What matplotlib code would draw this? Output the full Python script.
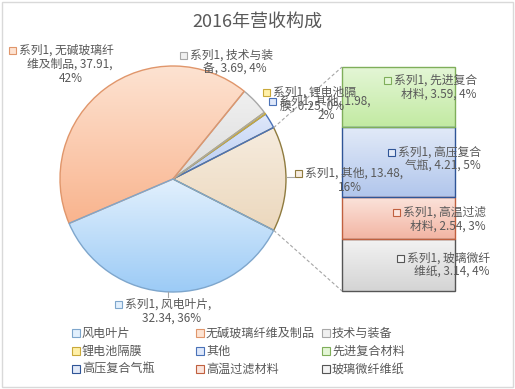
import numpy as np
import matplotlib
matplotlib.use("Agg")
import matplotlib.pyplot as plt
from matplotlib.colors import to_rgb
from matplotlib.patches import Rectangle

plt.rcParams['font.family'] = ['Noto Sans CJK SC', 'DejaVu Sans']

# pie slices (counter-clockwise, starting with the aggregated "其他" slice)
pie_names = ["其他", "其他", "锂电池隔膜", "技术与装备", "无碱玻璃纤维及制品", "风电叶片"]
pie_values = [13.48, 1.98, 0.25, 3.69, 37.91, 32.34]
pie_pct = ["16%", "2%", "0%", "4%", "42%", "36%"]

# secondary bar (bottom to top)
bar_names = ["玻璃微纤维纸", "高温过滤材料", "高压复合气瓶", "先进复合材料"]
bar_values = [3.14, 2.54, 4.21, 3.59]
bar_pct = ["4%", "3%", "5%", "4%"]

legend_names = ["风电叶片", "无碱玻璃纤维及制品", "技术与装备",
                "锂电池隔膜", "其他", "先进复合材料",
                "高压复合气瓶", "高温过滤材料", "玻璃微纤维纸"]

# gradient top / bottom / edge colours
styles = {
    "风电叶片": ("#e2f0fd", "#9ccbf6", "#7ea6cc"),
    "无碱玻璃纤维及制品": ("#fde3d2", "#f9b48e", "#e0966b"),
    "技术与装备": ("#f0f0f0", "#dcdcdc", "#a8a8a8"),
    "锂电池隔膜": ("#fff0a8", "#ffd966", "#c9a93a"),
    "其他": ("#dfe8fa", "#b7cbf2", "#4a72b8"),
    "其他_agg": ("#f6ecdf", "#ecd8bd", "#8f7b3f"),
    "先进复合材料": ("#e4f6d6", "#c2eaa2", "#7fae5a"),
    "高压复合气瓶": ("#e2eaf8", "#b1c6ec", "#2f5597"),
    "高温过滤材料": ("#fbe4dc", "#f3b5a3", "#c0603f"),
    "玻璃微纤维纸": ("#f3f3f3", "#d4d4d4", "#555555"),
}

W, H = 515, 389
fig = plt.figure(figsize=(W / 100, H / 100), dpi=100)
ax = fig.add_axes([0, 0, 1, 1])


def grad_fill(axis, patch, top, bottom):
    x0, y0, x1, y1 = patch.get_path().transformed(patch.get_patch_transform()).get_extents().extents
    n = 128
    t = np.linspace(0, 1, n)[:, None]
    c = (1 - t) * np.array(to_rgb(top)) + t * np.array(to_rgb(bottom))
    img = axis.imshow(c[:, None, :], extent=(x0, x1, y0, y1), aspect="auto",
                      interpolation="bilinear", zorder=1)
    img.set_clip_path(patch)


cx, cy, r = 173, H - 179, 113
wedges, _ = ax.pie(pie_values, startangle=-27, counterclock=True,
                   center=(cx, cy), radius=r,
                   wedgeprops=dict(linewidth=1.0, facecolor="none"))
for i, w in enumerate(wedges):
    key = "其他_agg" if i == 0 else pie_names[i]
    top, bot, edge = styles[key]
    w.set_edgecolor(edge)
    w.set_zorder(2)
    grad_fill(ax, w, top, bot)

ax.set_xlim(0, W)
ax.set_ylim(0, H)
ax.set_aspect("auto")
ax.axis("off")

# chart border
ax.add_patch(Rectangle((1.5, 2.5), W - 3.5, H - 4, fill=False,
                       edgecolor="#d9d9d9", linewidth=1, zorder=0))

ax.text(W / 2, H - 22, "2016年营收构成", ha="center", va="center",
        fontsize=13, color="#595959")

# stacked bar (own axes, drawn beneath the label layer)
bx0, bx1, by_top, by_bot = 342, 455, 67, 291
bax = fig.add_axes([bx0 / W, (H - by_bot) / H, (bx1 - bx0) / W, (by_bot - by_top) / H])
bax.set_zorder(0)
ax.set_zorder(1)
ax.patch.set_alpha(0)
bottoms = np.concatenate([[0], np.cumsum(bar_values)[:-1]])
rects = bax.bar(np.zeros(len(bar_values)), bar_values, bottom=bottoms, width=1.0,
                facecolor="none", linewidth=1.0, zorder=2)
for rect, name in zip(rects, bar_names):
    top, bot, edge = styles[name]
    rect.set_edgecolor(edge)
    rect.set_clip_on(False)
    grad_fill(bax, rect, top, bot)
bax.set_xlim(-0.5, 0.5)
bax.set_ylim(0, sum(bar_values))
bax.axis("off")

# connector lines (slice edge -> bar corners)
ang = np.deg2rad(27)
ax.plot([cx + r * np.cos(ang), bx0], [cy + r * np.sin(ang), H - by_top],
        color="#a6a6a6", lw=0.8, ls=(0, (3, 2)), zorder=3)
ax.plot([cx + r * np.cos(-ang), bx0], [cy + r * np.sin(-ang), H - by_bot],
        color="#a6a6a6", lw=0.8, ls=(0, (3, 2)), zorder=3)

TXT = "#595959"
FS = 8.5


def label(key, mx, my, line1, line2, cx2):
    top, bot, edge = styles[key]
    ax.add_patch(Rectangle((mx - 3.5, H - my - 3.5), 7, 7, facecolor=top,
                           edgecolor=edge, lw=0.8, zorder=5))
    ax.text(mx + 7, H - my, line1, ha="left", va="center", fontsize=FS, color=TXT, zorder=5)
    ax.text(cx2, H - my - 14, line2, ha="center", va="center", fontsize=FS, color=TXT, zorder=5)


v = dict(zip(pie_names[1:], pie_values[1:]))
p = dict(zip(pie_names[1:], pie_pct[1:]))
label("无碱玻璃纤维及制品", 12, 50, "系列1, 无碱玻璃纤",
      f"维及制品, {v['无碱玻璃纤维及制品']:.2f},", 70)
ax.text(71, H - 78, p["无碱玻璃纤维及制品"], ha="center", va="center", fontsize=FS, color=TXT)
label("技术与装备", 183, 55, "系列1, 技术与装",
      f"备, {v['技术与装备']:.2f}, {p['技术与装备']}", 235)
label("锂电池隔膜", 266, 92, "系列1, 锂电池隔",
      f"膜, {v['锂电池隔膜']:.2f}, {p['锂电池隔膜']}", 312)
label("其他", 272, 101, f"系列1, 其他, {v['其他']:.2f},", p["其他"], 326)
label("其他_agg", 298, 173, f"系列1, 其他, {pie_values[0]:.2f},", pie_pct[0], 350)
label("风电叶片", 118, 304, "系列1, 风电叶片,",
      f"{v['风电叶片']:.2f}, {p['风电叶片']}", 172)

# leader ticks
ax.plot([287, 294], [H - 177, H - 177], color="#a6a6a6", lw=0.8)
ax.plot([168, 168], [H - 292, H - 297], color="#a6a6a6", lw=0.8)

bar_pos = {"先进复合材料": (387, 80), "高压复合气瓶": (391, 152),
           "高温过滤材料": (396, 212), "玻璃微纤维纸": (400, 258)}
for name, val, pc in zip(bar_names, bar_values, bar_pct):
    mx, my = bar_pos[name]
    label(name, mx, my, f"系列1, {name[:4]}",
          f"{name[4:]}, {val:.2f}, {pc}", mx + 52)

# legend
cols = [76, 200, 326]
rows = [333, 351, 369]
for i, name in enumerate(legend_names):
    top, bot, edge = styles[name]
    x, y = cols[i % 3], rows[i // 3]
    ax.add_patch(Rectangle((x - 4, H - y - 4), 8, 8, facecolor=top,
                           edgecolor=edge, lw=0.8, zorder=5))
    ax.text(x + 6, H - y, name, ha="left", va="center", fontsize=8.7, color=TXT)

fig.savefig("out.png", dpi=100)
